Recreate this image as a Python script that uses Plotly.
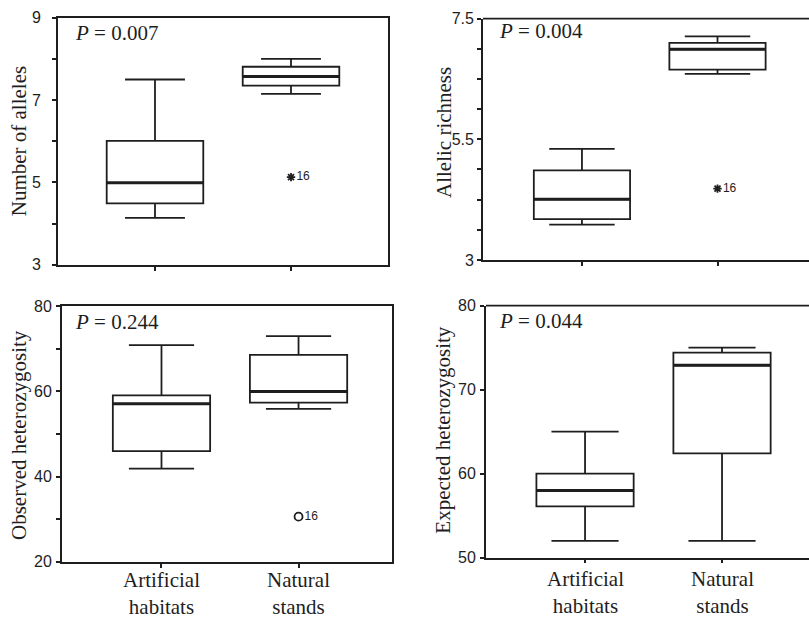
import plotly.graph_objects as go

# ---------------- data ----------------
categories = ["Artificial<br>habitats", "Natural<br>stands"]

# Number of alleles
alleles_q1 = [4.49, 7.35]
alleles_median = [4.99, 7.57]
alleles_q3 = [6.01, 7.81]
alleles_low = [4.14, 7.15]
alleles_high = [7.50, 8.00]
alleles_outlier = 5.13

# Allelic richness
rich_q1 = [3.76, 6.55]
rich_median = [4.13, 6.93]
rich_q3 = [4.67, 7.05]
rich_low = [3.66, 6.47]
rich_high = [5.07, 7.17]
rich_outlier = 4.33

# Observed heterozygosity
ho_q1 = [46.0, 57.4]
ho_median = [57.1, 60.0]
ho_q3 = [59.1, 68.6]
ho_low = [41.9, 55.9]
ho_high = [70.9, 73.0]
ho_outlier = 30.6

# Expected heterozygosity
he_q1 = [56.1, 62.4]
he_median = [58.0, 72.9]
he_q3 = [60.0, 74.4]
he_low = [52.0, 52.0]
he_high = [65.0, 75.0]

p_values = ["0.007", "0.004", "0.244", "0.044"]
y_titles = ["Number of alleles", "Allelic richness",
            "Observed heterozygosity", "Expected heterozygosity"]
outlier_label = "16"

alleles_ticks = [3, 5, 7, 9]
rich_tickvals = [3, 5.25, 7.5]
rich_ticktext = ["3", "5.5", "7.5"]
ho_ticks = [20, 40, 60, 80]
he_ticks = [50, 60, 70, 80]

# ---------------- layout helpers ----------------
W, H = 809, 623
def fx(p):
    return p / W
def fy(p):
    return 1 - p / H

INK = "#1e1e1e"
SERIF = "Liberation Serif"
SANS = "Liberation Sans"
BOXW = 0.71

fig = go.Figure()

panels = [
    dict(ax="", q1=alleles_q1, med=alleles_median, q3=alleles_q3, lo=alleles_low, hi=alleles_high,
         out=alleles_outlier, sym="asterisk", wh=0.62),
    dict(ax="2", q1=rich_q1, med=rich_median, q3=rich_q3, lo=rich_low, hi=rich_high,
         out=rich_outlier, sym="asterisk", wh=0.68),
    dict(ax="3", q1=ho_q1, med=ho_median, q3=ho_q3, lo=ho_low, hi=ho_high,
         out=ho_outlier, sym="circle-open", wh=0.67),
    dict(ax="4", q1=he_q1, med=he_median, q3=he_q3, lo=he_low, hi=he_high,
         out=None, sym=None, wh=0.69),
]

xs = list(range(len(categories)))
for p in panels:
    xa, ya = "x" + p["ax"], "y" + p["ax"]
    fig.add_trace(go.Box(
        x=xs, q1=p["q1"], median=p["med"], q3=p["q3"],
        lowerfence=p["lo"], upperfence=p["hi"],
        width=BOXW, whiskerwidth=p["wh"],
        fillcolor="white", line=dict(color=INK, width=1.8),
        boxpoints=False, showlegend=False, xaxis=xa, yaxis=ya,
    ))
    # thicker median line
    mx, my = [], []
    for i, m in zip(xs, p["med"]):
        mx += [i - BOXW / 2, i + BOXW / 2, None]
        my += [m, m, None]
    fig.add_trace(go.Scatter(x=mx, y=my, mode="lines",
                             line=dict(color=INK, width=3),
                             showlegend=False, xaxis=xa, yaxis=ya, hoverinfo="skip"))
    if p["out"] is not None:
        fig.add_trace(go.Scatter(
            x=[1], y=[p["out"]], mode="markers+text",
            marker=dict(symbol=p["sym"], size=7 if p["sym"] == "asterisk" else 8,
                        color=INK, line=dict(color=INK, width=1.8)),
            text=[outlier_label], textposition="middle right",
            textfont=dict(family=SANS, size=12, color=INK),
            showlegend=False, xaxis=xa, yaxis=ya, hoverinfo="skip"))

# ---------------- axes ----------------
common_x = dict(tickvals=xs, ticks="outside", ticklen=4, tickcolor=INK, tickwidth=1.5,
                showticklabels=False,
                showline=True, linecolor=INK, linewidth=1.8, showgrid=False, zeroline=False)
common_y = dict(ticks="outside", ticklen=4, tickcolor=INK, tickwidth=1.5,
                showline=True, linecolor=INK, linewidth=1.8, showgrid=False, zeroline=False,
                tickfont=dict(family=SANS, size=16, color=INK))

fig.update_layout(
    width=W, height=H, margin=dict(l=0, r=0, t=0, b=0),
    paper_bgcolor="white", plot_bgcolor="white",
    boxmode="overlay",
    # panel 1
    xaxis=dict(domain=[fx(58), fx(388)], range=[-0.713, 1.713], anchor="y",
               mirror=True, **common_x),
    yaxis=dict(domain=[fy(264), fy(10)], range=[3, 9], anchor="x", tickvals=alleles_ticks,
               minor=dict(dtick=1, tick0=3, ticks="outside", ticklen=4, tickcolor=INK),
               mirror=True, ticklabelstandoff=8, **common_y),
    # panel 2
    xaxis2=dict(domain=[fx(483), 1.0], range=[-0.73, 1.675], anchor="y2", **common_x),
    yaxis2=dict(domain=[fy(259), fy(11)], range=[3, 7.5], anchor="x2",
                tickvals=rich_tickvals, ticktext=rich_ticktext,
                minor=dict(dtick=0.5625, tick0=3, ticks="outside", ticklen=4, tickcolor=INK),
                ticklabelstandoff=0, **common_y),
    # panel 3
    xaxis3=dict(domain=[fx(62), fx(392)], range=[-0.726, 1.682], anchor="y3",
                mirror=True, **common_x),
    yaxis3=dict(domain=[fy(569.3), fy(306.7)], range=[20, 80], anchor="x3", tickvals=ho_ticks,
                minor=dict(dtick=10, tick0=20, ticks="outside", ticklen=4, tickcolor=INK),
                mirror=True, ticklabelstandoff=1, **common_y),
    # panel 4
    xaxis4=dict(domain=[fx(486), 1.0], range=[-0.723, 1.635], anchor="y4", **common_x),
    yaxis4=dict(domain=[fy(565), fy(306)], range=[50, 80], anchor="x4", tickvals=he_ticks,
                ticklabelstandoff=1, **common_y),
)

# top border lines for the right-hand panels (no right border in the reference)
for ax in ["2", "4"]:
    fig.add_shape(type="line", xref=f"x{ax} domain", yref=f"y{ax} domain",
                  x0=0, x1=1, y0=1, y1=1, line=dict(color=INK, width=1.8))

# ---------------- category labels (placed on the category axes) ----------------
for ax, top in [("3", 574), ("4", 573)]:
    for i, c in zip(xs, categories):
        fig.add_annotation(x=i, xref=f"x{ax}", y=fy(top), yref="paper",
                           xanchor="center", yanchor="top", showarrow=False,
                           text=c, font=dict(family=SERIF, size=21, color=INK))

# ---------------- annotations ----------------
p_pos = [(73, 26), (497, 24), (73, 323), (497, 322)]
for pv, (px, py) in zip(p_values, p_pos):
    fig.add_annotation(x=fx(px), y=fy(py), xref="paper", yref="paper",
                       xanchor="left", yanchor="middle", showarrow=False,
                       text=f"<i>P</i> = {pv}", font=dict(family=SERIF, size=21, color=INK))

t_pos = [(19, 137), (443.5, 128), (19, 439), (443.5, 434)]
for t, (px, py) in zip(y_titles, t_pos):
    fig.add_annotation(x=fx(px), y=fy(py), xref="paper", yref="paper",
                       xanchor="center", yanchor="middle", showarrow=False, textangle=-90,
                       text=t, font=dict(family=SERIF, size=21, color=INK))

fig.write_html("out.html", config={"displayModeBar": False},
               post_script="document.body.style.margin='0px';")
